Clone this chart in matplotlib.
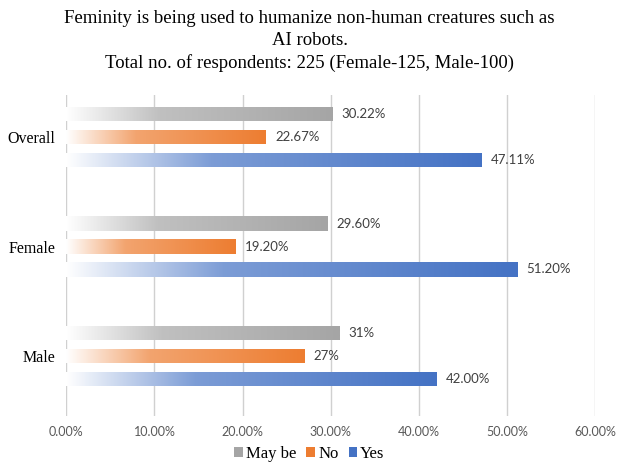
import matplotlib.pyplot as plt
import numpy as np
from matplotlib.colors import LinearSegmentedColormap, to_rgb
from matplotlib.patches import Patch
from matplotlib.font_manager import FontProperties

# --- данные ---
categories = ["Overall", "Female", "Male"]
series = ["May be", "No", "Yes"]
may_be = [30.22, 29.60, 31.0]
no = [22.67, 19.20, 27.0]
yes = [47.11, 51.20, 42.0]
may_be_labels = ["30.22%", "29.60%", "31%"]
no_labels = ["22.67%", "19.20%", "27%"]
yes_labels = ["47.11%", "51.20%", "42.00%"]
x_ticks = [0, 10, 20, 30, 40, 50, 60]

colors = ["#A5A5A5", "#ED7D31", "#4472C4"]

fig = plt.figure(figsize=(6.19, 4.62), dpi=100)
ax = fig.add_axes([0.107, 0.10, 0.855, 0.695])

y_centers = np.arange(len(categories))  # 0 - Overall вверху
offsets = [-0.21, 0.0, 0.21]
bar_h = 0.13

all_values = [may_be, no, yes]
all_labels = [may_be_labels, no_labels, yes_labels]


def gradient_cmap(color):
    # от белого к цвету, быстрое нарастание в начале
    c = np.array(to_rgb(color))
    w = np.ones(3)
    stops = [(0.0, w), (0.35, w * 0.3 + c * 0.7), (1.0, c)]
    return LinearSegmentedColormap.from_list("g", [(p, tuple(v)) for p, v in stops])


grad = np.linspace(0, 1, 256).reshape(1, -1)

for s, (vals, labs, col) in enumerate(zip(all_values, all_labels, colors)):
    cmap = gradient_cmap(col)
    for i, (v, lab) in enumerate(zip(vals, labs)):
        y = y_centers[i] + offsets[s]
        bars = ax.barh(y, v, height=bar_h, color="none", edgecolor="none")
        rect = bars[0]
        im = ax.imshow(grad, cmap=cmap, aspect="auto", interpolation="bilinear",
                       extent=[0, v, y + bar_h / 2, y - bar_h / 2], zorder=2)
        im.set_clip_path(rect)
        ax.text(v + 1.0, y, lab, va="center", ha="left", fontsize=9.5,
                color="#404040", family="Lato")

ax.set_xlim(0, 60)
ax.set_ylim(2.55, -0.39)
ax.set_xticks(x_ticks)
ax.set_xticklabels([f"{t:.2f}%" for t in x_ticks], fontsize=9, color="#595959",
                   family="Lato")
ax.set_yticks(y_centers)
ax.set_yticklabels(categories, fontsize=11.5, family="Liberation Serif")
ax.tick_params(axis="both", length=0)
ax.tick_params(axis="x", pad=7)
ax.tick_params(axis="y", pad=8)
ax.grid(axis="x", color="#D0D0D0", linewidth=1)
ax.set_axisbelow(True)
for sp in ax.spines.values():
    sp.set_visible(False)

fig.text(0.5, 0.978, "Feminity is being used to humanize non-human creatures such as\nAI robots.\n"
         "Total no. of respondents: 225 (Female-125, Male-100)",
         ha="center", va="top", fontsize=13.5, family="Liberation Serif", linespacing=1.35)

handles = [Patch(facecolor=c, edgecolor="none") for c in colors]
fig.legend(handles, series, loc="center", bbox_to_anchor=(0.5, 0.018), ncol=3,
           frameon=False, prop=FontProperties(family="Liberation Serif", size=12),
           handlelength=0.5, handleheight=0.5, handletextpad=0.2, columnspacing=0.6,
           borderpad=0)

fig.savefig("out.png", dpi=100)
